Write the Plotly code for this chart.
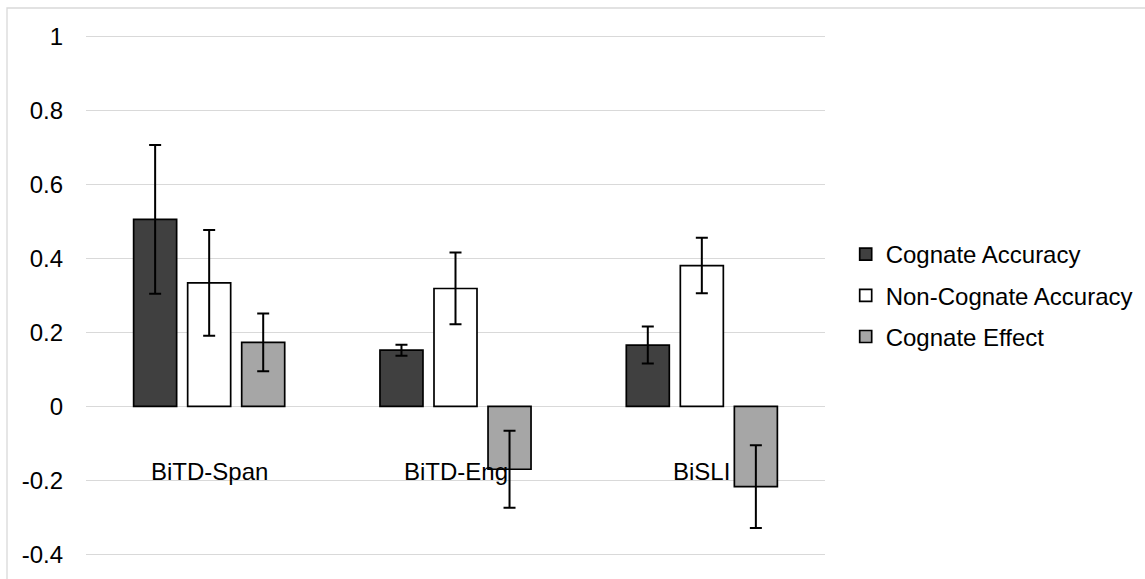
import plotly.graph_objects as go

categories = ["BiTD-Span", "BiTD-Eng", "BiSLI"]
series_names = ["Cognate Accuracy", "Non-Cognate Accuracy", "Cognate Effect"]
cognate_acc = [0.506, 0.152, 0.166]
cognate_acc_err = [0.201, 0.015, 0.050]
noncognate_acc = [0.334, 0.319, 0.381]
noncognate_acc_err = [0.143, 0.097, 0.075]
cognate_eff = [0.173, -0.170, -0.217]
cognate_eff_err = [0.078, 0.104, 0.112]
y_ticks = [-0.4, -0.2, 0, 0.2, 0.4, 0.6, 0.8, 1]
y_tick_text = ["-0.4", "-0.2", "0", "0.2", "0.4", "0.6", "0.8", "1"]

values = [cognate_acc, noncognate_acc, cognate_eff]
errors = [cognate_acc_err, noncognate_acc_err, cognate_eff_err]
fills = ["#404040", "#FFFFFF", "#A6A6A6"]

FONT = "Liberation Sans, Arial, sans-serif"
FS = 24

fig = go.Figure()
for name, vals, errs, col in zip(series_names, values, errors, fills):
    fig.add_trace(go.Bar(
        x=categories, y=vals, name=name, legendgroup=name,
        marker=dict(color=col, line=dict(color="#000000", width=1.7)),
        error_y=dict(type="data", array=errs, visible=True,
                     color="#000000", thickness=2, width=6),
    ))

for cat in categories:
    fig.add_annotation(x=cat, y=-0.177, xref="x", yref="y", text=cat,
                       showarrow=False, yanchor="middle", xanchor="center",
                       font=dict(family=FONT, size=FS, color="#000000"))

# outer chart border (partially cropped in the reference)
fig.add_shape(type="rect", xref="paper", yref="paper",
              x0=-0.1069, x1=1.6, y0=-0.3, y1=1.0476,
              line=dict(color="#D9D9D9", width=1.3), fillcolor="rgba(0,0,0,0)",
              layer="below")

fig.update_layout(
    width=1145, height=579,
    margin=dict(l=86, r=320, t=33, b=21, autoexpand=False),
    paper_bgcolor="white", plot_bgcolor="white",
    barmode="group", bargap=0.342, bargroupgap=0.204,
    font=dict(family=FONT, size=FS, color="#000000"),
    showlegend=True,
    legend=dict(x=1.028, xanchor="left", y=0.5, yanchor="middle",
                tracegroupgap=7, font=dict(family=FONT, size=FS, color="#000000"),
                bgcolor="rgba(0,0,0,0)"),
    xaxis=dict(showticklabels=False, showgrid=False, showline=False, zeroline=False,
               ticks=""),
    yaxis=dict(range=[-0.41, 1.01], tickvals=y_ticks, ticktext=y_tick_text,
               showgrid=True, gridcolor="#D9D9D9", gridwidth=1.3,
               zeroline=True, zerolinecolor="#D9D9D9", zerolinewidth=1.3,
               showline=False, ticks="", ticklabelstandoff=22,
               tickfont=dict(family=FONT, size=FS, color="#000000")),
)

fig.write_html("out.html")
